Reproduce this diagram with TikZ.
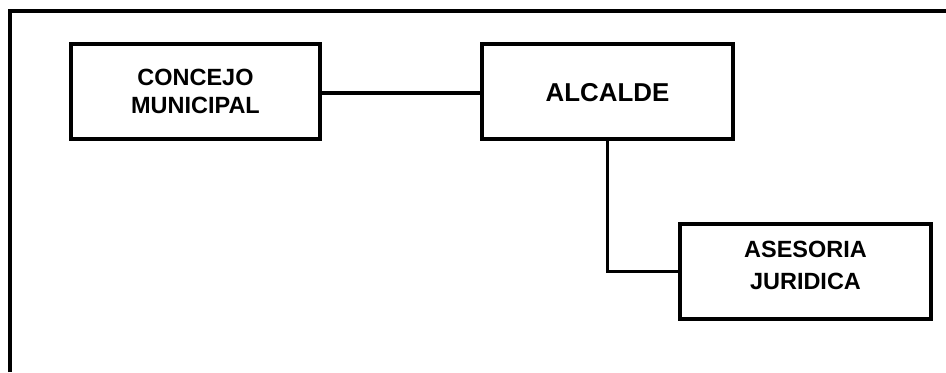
\documentclass[tikz,border=0pt]{standalone}
\usepackage{fontspec}
\setmainfont{Liberation Sans}
\begin{document}
\begin{tikzpicture}[x=0.75pt,y=-0.75pt,
  box/.style={draw=black,line width=2.3pt,rectangle,inner sep=0pt},
  txt/.style={anchor=base,inner sep=0pt,font=\fontsize{17.6pt}{21pt}\selectfont\bfseries},
  bigtxt/.style={anchor=base,inner sep=0pt,font=\fontsize{19.4pt}{23pt}\selectfont\bfseries},
  conn/.style={draw=black,line width=2.3pt},
  frameline/.style={draw=black,line width=3.2pt}]
\useasboundingbox (0,0) rectangle (946,372);
% frame (cropped: only left and top sides visible)
\coordinate (fbl) at (10,372);
\coordinate (ftl) at (10,11);
\coordinate (ftr) at (946,11);
\draw[frameline] (fbl) -- (ftl) -- (ftr);
% boxes
\node[box,minimum width=249*0.75pt,minimum height=95*0.75pt] (concejo) at (195.5,91.5) {};
\node[box,minimum width=251*0.75pt,minimum height=95*0.75pt] (alcalde) at (607.5,91.5) {};
\node[box,minimum width=251*0.75pt,minimum height=95*0.75pt] (asesoria) at (805.5,271.5) {};
% texts
\node[txt] (t1) at (195.5,85) {CONCEJO};
\node[txt] (t2) at (195.5,113.3) {MUNICIPAL};
\node[bigtxt] (t3) at (607.5,101.7) {ALCALDE};
\node[txt] (t4) at (805.5,257.3) {ASESORIA};
\node[txt] (t5) at (805.5,289.3) {JURIDICA};
% connectors
\draw[conn] ([yshift=-1.1pt]concejo.east) -- ([yshift=-1.1pt]alcalde.west);
\draw[conn] (alcalde.south) |- (asesoria.west);
\end{tikzpicture}
\end{document}
